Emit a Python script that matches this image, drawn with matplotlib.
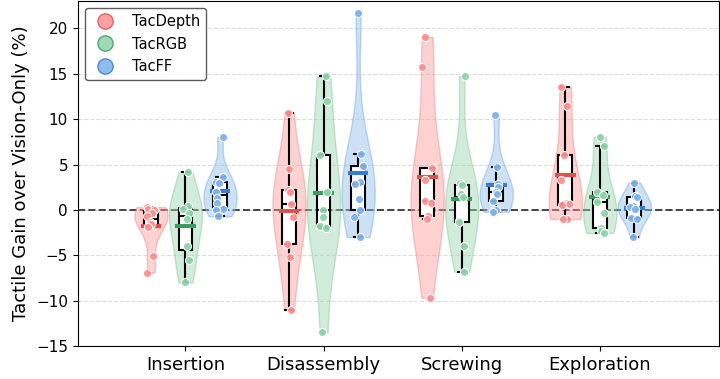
import matplotlib
matplotlib.use("Agg")
import matplotlib.pyplot as plt
from matplotlib.lines import Line2D
import numpy as np

# tasks and sensor variants
tasks = ["Insertion", "Disassembly", "Screwing", "Exploration"]
methods = ["TacDepth", "TacRGB", "TacFF"]

# per-trial tactile gain (%)
tacdepth = [
    [0.3, 0.1, 0.0, -0.3, -0.7, -1.3, -1.6, -1.9, -5.1, -6.9],
    [10.7, 4.5, 2.2, 1.95, 0.7, -0.8, -3.8, -5.2, -11.0],
    [19.05, 15.75, 4.6, 3.3, 1.0, 0.8, -0.7, -1.0, -9.7],
    [13.55, 11.5, 6.0, 3.3, 0.8, 0.6, 0.5, -1.0, -1.0],
]
tacrgb = [
    [4.2, 0.4, 0.1, -0.3, -1.0, -4.0, -5.5, -8.0],
    [14.7, 12.0, 6.0, 1.95, 0.0, -0.8, -1.75, -2.05, -13.5],
    [14.7, 3.0, 2.7, 1.8, 1.4, -1.2, -1.3, -4.0, -6.8],
    [8.05, 7.0, 2.0, 1.6, 0.9, -0.3, -2.0, -2.3, -2.55],
]
tacff = [
    [8.0, 3.6, 3.1, 3.0, 2.0, 1.3, 0.8, 0.1, 0.0, -0.7],
    [21.7, 6.2, 4.8, 3.1, 2.9, 1.2, 0.0, -0.8, -3.0],
    [10.5, 4.75, 2.9, 2.5, 2.0, 1.7, 1.0, 0.0, -0.2],
    [3.0, 1.5, 1.4, 0.4, 0.3, 0.1, -0.9, -1.0, -3.0],
]
all_data = [tacdepth, tacrgb, tacff]

fill_colors = ["#ff9a9a", "#9bd6b0", "#8fbcec"]
point_colors = ["#ff8f8f", "#8ed3a8", "#7eb2ea"]
edge_colors = ["#e88a8a", "#86c49c", "#7aa8dc"]
mean_colors = ["#d9534f", "#3d9a62", "#3b7cc6"]
offsets = [-0.25, 0.0, 0.25]

rng = np.random.default_rng(3)

fig = plt.figure(figsize=(7.2, 3.79), dpi=100)
ax = fig.add_axes([0.108, 0.087, 0.89, 0.91])

for m in range(3):
    data = all_data[m]
    pos = [i + offsets[m] for i in range(len(tasks))]
    vp = ax.violinplot(data, positions=pos, widths=0.24, showextrema=False)
    for body in vp["bodies"]:
        body.set_facecolor(fill_colors[m])
        body.set_edgecolor(edge_colors[m])
        body.set_alpha(0.45)
        body.set_linewidth(1.0)
        body.set_zorder(2)
    ax.boxplot(data, positions=pos, widths=0.1, patch_artist=True,
               showfliers=False, manage_ticks=False, capwidths=0.055,
               boxprops=dict(facecolor="white", edgecolor="black", linewidth=1.5),
               medianprops=dict(color="black", linewidth=1.5),
               whiskerprops=dict(color="black", linewidth=1.5),
               capprops=dict(color="black", linewidth=1.5),
               zorder=3)
    for i, vals in enumerate(data):
        ax.hlines(np.mean(vals), pos[i] - 0.075, pos[i] + 0.075,
                  color=mean_colors[m], linewidth=3, zorder=4)
        jit = rng.uniform(-0.035, 0.035, len(vals))
        ax.scatter(pos[i] + jit, vals, s=34, color=point_colors[m],
                   edgecolors="white", linewidths=0.8, alpha=0.95, zorder=5)

ax.axhline(0, color="#444444", linestyle="--", linewidth=1.4, zorder=1.5)
ax.set_yticks(np.arange(-15, 21, 5))
ax.grid(axis="y", linestyle="--", color="#dddddd", linewidth=0.8)
ax.set_axisbelow(True)
ax.set_ylim(-15, 23)
ax.set_xlim(-0.78, 3.86)
ax.set_xticks(range(len(tasks)))
ax.set_xticklabels(tasks, fontsize=13)
ax.tick_params(axis="y", labelsize=11)
ax.set_ylabel("Tactile Gain over Vision-Only (%)", fontsize=13)

handles = [Line2D([], [], marker="o", linestyle="", markersize=11,
                  markerfacecolor=point_colors[m], markeredgecolor=mean_colors[m],
                  markeredgewidth=1.0, alpha=0.85, label=methods[m]) for m in range(3)]
leg = ax.legend(handles=handles, loc="upper left", fontsize=10.5,
                frameon=True, edgecolor="#333333", bbox_to_anchor=(0.0, 1.0))
leg.get_frame().set_linewidth(1.0)

fig.savefig("out.png", dpi=100)
